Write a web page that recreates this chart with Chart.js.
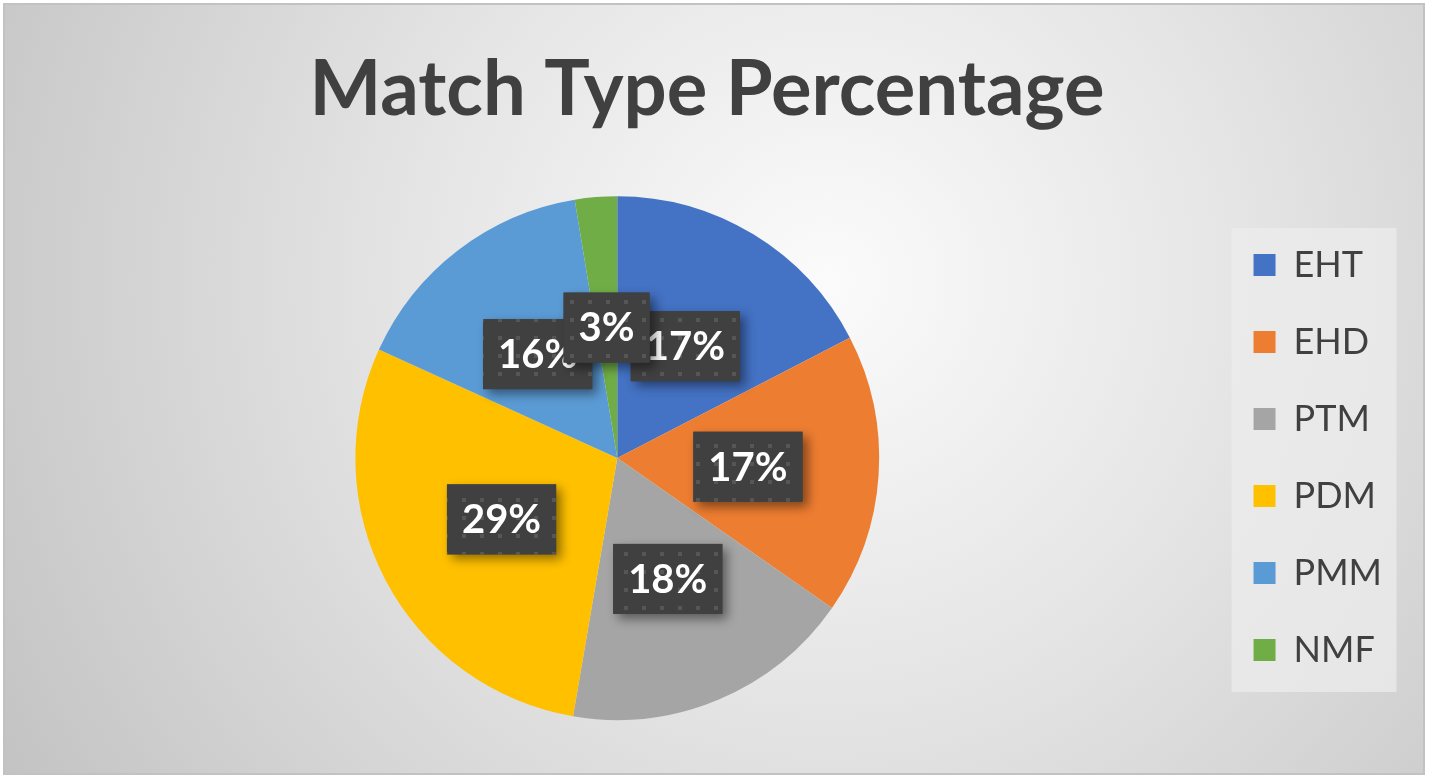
<!DOCTYPE html>
<html>
<head>
<meta charset="utf-8">
<script src="https://cdn.jsdelivr.net/npm/chart.js@4/dist/chart.umd.min.js"></script>
<style>
  html, body { margin: 0; padding: 0; background: #fff; }
  #frame {
    position: absolute; left: 3px; top: 3px;
    width: 1422px; height: 772px; box-sizing: border-box;
    border: 2px solid #c2c2c2;
    background: radial-gradient(circle farthest-corner at 58% 36%, #fbfbfb 0%, #e4e4e4 45%, #c3c3c3 100%);
  }
  #chart { display: block; }
</style>
</head>
<body>
<div id="frame"><canvas id="chart" width="1418" height="768"></canvas></div>
<script>
// Data
const categories = ['EHT', 'EHD', 'PTM', 'PDM', 'PMM', 'NMF'];
const shares = [17.4, 17.3, 18.0, 29.1, 15.6, 2.6];
const sliceColors = ['#4472C4', '#ED7D31', '#A5A5A5', '#FFC000', '#5B9BD5', '#70AD47'];
const chartTitle = 'Match Type Percentage';

const FONT = 'Lato, "Open Sans", sans-serif';

// dotted dark fill used behind the data labels
function makeDotPattern(ctx) {
    const tile = document.createElement('canvas');
    tile.width = 18;
    tile.height = 18;
    const t = tile.getContext('2d');
    t.fillStyle = '#404040';
    t.fillRect(0, 0, 18, 18);
    t.fillStyle = '#565656';
    t.fillRect(7, 7, 4, 4);
    return ctx.createPattern(tile, 'repeat');
}

// the legend spans the full height; nudge it to where the reference has it
const legendPanel = {
    id: 'legendPanel',
    afterLayout(chart) {
        const lg = chart.legend;
        const dx = -17, dy = 95;
        lg.left += dx;
        lg.right += dx;
        lg.top += dy;
        lg.bottom += dy;
    },
    beforeDraw(chart) {
        // light panel behind the legend items
        const lg = chart.legend;
        const ctx = chart.ctx;
        const boxX = lg.left + lg.options.labels.padding;
        ctx.save();
        ctx.fillStyle = 'rgba(236,236,236,0.75)';
        ctx.fillRect(boxX - 22, 223, 165, 464);
        ctx.restore();
    }
};

// dark boxed percentage labels in the middle of every slice
const sliceLabels = {
    id: 'sliceLabels',
    afterDatasetsDraw(chart) {
        const ctx = chart.ctx;
        const meta = chart.getDatasetMeta(0);
        const data = chart.data.datasets[0].data;
        const total = data.reduce((a, b) => a + b, 0);
        const pattern = makeDotPattern(ctx);
        ctx.save();
        ctx.font = 'bold 40px ' + FONT;
        meta.data.forEach((arc, i) => {
            const p = arc.getProps(['x', 'y', 'startAngle', 'endAngle', 'outerRadius'], true);
            const mid = (p.startAngle + p.endAngle) / 2;
            const r = p.outerRadius * 0.5;
            const cx = p.x + Math.cos(mid) * r;
            const cy = p.y + Math.sin(mid) * r;
            const text = Math.round(data[i] / total * 100) + '%';
            const w = ctx.measureText(text).width + 30;
            const h = 70;

            ctx.save();
            ctx.shadowColor = 'rgba(0,0,0,0.45)';
            ctx.shadowBlur = 10;
            ctx.shadowOffsetX = 5;
            ctx.shadowOffsetY = 5;
            ctx.fillStyle = '#404040';
            ctx.fillRect(cx - w / 2, cy - h / 2, w, h);
            ctx.restore();

            ctx.fillStyle = pattern;
            ctx.fillRect(cx - w / 2, cy - h / 2, w, h);

            ctx.fillStyle = '#ffffff';
            ctx.textAlign = 'center';
            ctx.textBaseline = 'middle';
            ctx.fillText(text, cx, cy + 1);
        });
        ctx.restore();
    }
};

const ctx = document.getElementById('chart').getContext('2d');
const chart = new Chart(ctx, {
    type: 'pie',
    data: {
        labels: categories,
        datasets: [{
            data: shares,
            backgroundColor: sliceColors,
            borderWidth: 0,
            hoverOffset: 0
        }]
    },
    options: {
        responsive: false,
        animation: false,
        events: [],
        layout: {
            padding: { left: 0, right: 14, top: 0, bottom: 53 }
        },
        plugins: {
            title: {
                display: true,
                text: chartTitle,
                color: '#404040',
                font: { family: FONT, size: 76, weight: 'bold' },
                padding: { top: 40, bottom: 60 }
            },
            legend: {
                position: 'right',
                labels: {
                    boxWidth: 22,
                    boxHeight: 22,
                    padding: 41,
                    color: '#404040',
                    font: { family: FONT, size: 36 }
                }
            },
            tooltip: { enabled: false }
        }
    },
    plugins: [legendPanel, sliceLabels]
});
</script>
</body>
</html>
